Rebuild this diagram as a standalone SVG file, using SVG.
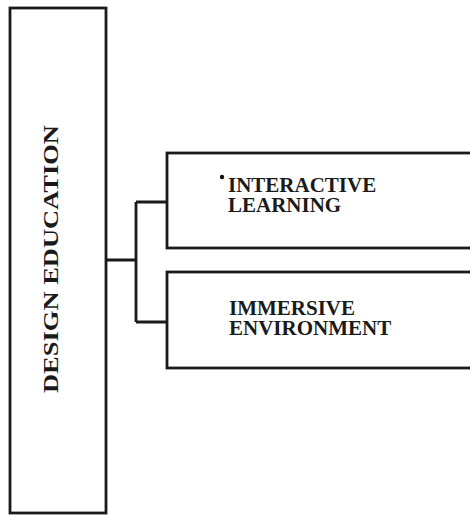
<svg xmlns="http://www.w3.org/2000/svg" width="470" height="515" viewBox="0 0 470 515">
<style>
.box{fill:#fff;stroke:#1a1a1a;stroke-width:2.8}
.conn{fill:none;stroke:#1a1a1a;stroke-width:2.8}
.lbl{font-family:"Liberation Serif","Times New Roman",serif;font-weight:bold;font-size:21px;fill:#1a1a1a}
</style>
<rect width="470" height="515" fill="#fff"/>
<g id="connectors">
<path class="conn" d="M106,260 H136 M136,202 V322 M136,202 H167 M136,322 H167"/>
</g>
<g id="design-education">
<rect class="box" x="10" y="8" width="96" height="505"/>
<text class="lbl" font-size="23" transform="translate(58,259) rotate(-90)" text-anchor="middle" textLength="268" lengthAdjust="spacingAndGlyphs">DESIGN EDUCATION</text>
</g>
<g id="interactive-learning">
<rect class="box" x="167" y="153" width="320" height="95"/>
<circle cx="222" cy="177" r="2.2" fill="#111"/>
<text class="lbl" x="228" y="192">INTERACTIVE</text>
<text class="lbl" x="228" y="212">LEARNING</text>
</g>
<g id="immersive-environment">
<rect class="box" x="167" y="272" width="320" height="96"/>
<text class="lbl" x="229" y="315">IMMERSIVE</text>
<text class="lbl" x="229" y="335">ENVIRONMENT</text>
</g>
</svg>
